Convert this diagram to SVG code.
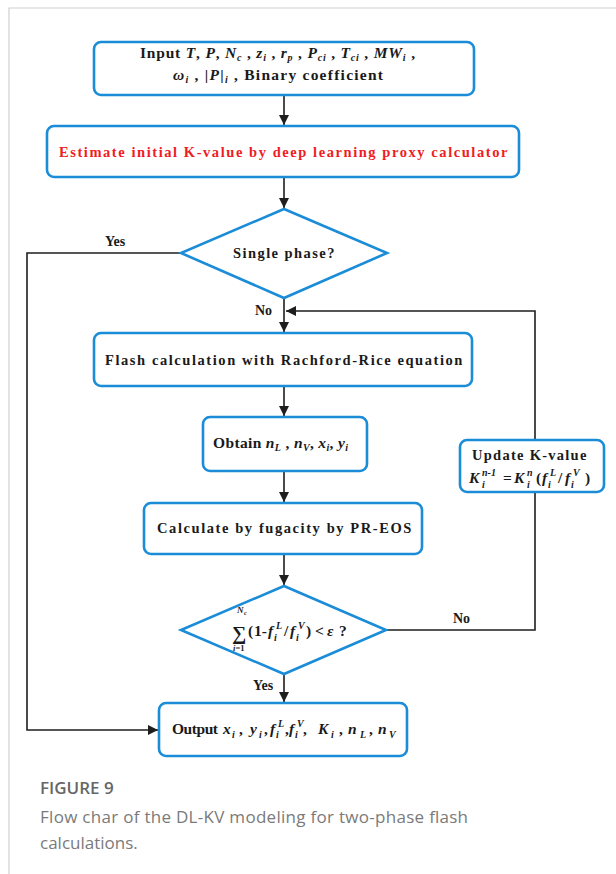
<svg xmlns="http://www.w3.org/2000/svg" width="616" height="874" viewBox="0 0 616 874">
  <style>
    .box { fill: #ffffff; stroke: #1a8cd8; stroke-width: 2.6; }
    .dia { fill: #ffffff; stroke: #1a8cd8; stroke-width: 2.6; stroke-linejoin: miter; }
    .con { fill: none; stroke: #1e1e1e; stroke-width: 1.6; }
    .t { font-family: "Liberation Serif", "Times New Roman", serif; font-weight: bold; font-size: 14.5px; fill: #1a1a1a; letter-spacing: 0.6px; }
    .m { font-family: "Liberation Serif", "Times New Roman", serif; font-weight: bold; font-size: 15.5px; fill: #1a1a1a; }
    .red { fill: #f01c24; }
    .it { font-style: italic; }
    .sb { font-size: 10px; baseline-shift: -3px; font-style: italic; }
    .s { font-size: 10px; font-style: italic; }
    .lbl { font-family: "Liberation Serif", "Times New Roman", serif; font-weight: bold; font-size: 14px; fill: #1a1a1a; }
    .cap { font-family: "Open Sans", "Noto Sans", sans-serif; font-size: 17px; fill: #7a7a7a; }
    .fig { font-family: "Open Sans", "Noto Sans", sans-serif; font-size: 17px; font-weight: 600; fill: #666666; }
  </style>
  <defs>
    <marker id="arrow" viewBox="0 0 10 10" refX="10" refY="5" markerWidth="10" markerHeight="10" markerUnits="userSpaceOnUse" orient="auto">
      <path d="M0,0 L10,5 L0,10 z" fill="#1e1e1e"/>
    </marker>
  </defs>

  <!-- page frame -->
  <rect x="0" y="0" width="616" height="874" fill="#ffffff"/>
  <path d="M9,874 V8 H616" fill="none" stroke="#d0d0d0" stroke-width="1.2"/>

  <!-- connectors -->
  <g id="connectors">
    <line class="con" x1="284" y1="95" x2="284" y2="125" marker-end="url(#arrow)"/>
    <line class="con" x1="284" y1="178" x2="284" y2="208" marker-end="url(#arrow)"/>
    <line class="con" x1="284" y1="298" x2="284" y2="332" marker-end="url(#arrow)"/>
    <line class="con" x1="284" y1="387" x2="284" y2="416" marker-end="url(#arrow)"/>
    <line class="con" x1="284" y1="471" x2="284" y2="502" marker-end="url(#arrow)"/>
    <line class="con" x1="284" y1="555" x2="284" y2="585" marker-end="url(#arrow)"/>
    <line class="con" x1="284" y1="674" x2="284" y2="702" marker-end="url(#arrow)"/>
    <polyline class="con" points="181,253 27,253 27,730 158,730" marker-end="url(#arrow)"/>
    <polyline class="con" points="386,630 535,630 535,492"/>
    <polyline class="con" points="535,440 535,311 286,311" marker-end="url(#arrow)"/>
    <text class="lbl" x="105" y="246">Yes</text>
    <text class="lbl" x="255" y="315">No</text>
    <text class="lbl" x="453" y="623">No</text>
    <text class="lbl" x="253" y="690">Yes</text>
  </g>

  <!-- input -->
  <g id="input">
    <rect class="box" x="94" y="42" width="380" height="53" rx="7"/>
    <text class="m" x="140" y="58" textLength="275" lengthAdjust="spacing">Input <tspan class="it">T</tspan>, <tspan class="it">P</tspan>, <tspan class="it">N</tspan><tspan class="sb">c</tspan> , <tspan class="it">z</tspan><tspan class="sb">i</tspan> , <tspan class="it">r</tspan><tspan class="sb">p</tspan> , <tspan class="it">P</tspan><tspan class="sb">ci</tspan> , <tspan class="it">T</tspan><tspan class="sb">ci</tspan> , <tspan class="it">MW</tspan><tspan class="sb">i</tspan> ,</text>
    <text class="m" x="173" y="80" textLength="210" lengthAdjust="spacing"><tspan class="it">ω</tspan><tspan class="sb">i</tspan> , |<tspan class="it">P</tspan>|<tspan class="sb">i</tspan> , Binary coefficient</text>
  </g>

  <!-- estimate -->
  <g id="estimate">
    <rect class="box" x="47" y="126" width="472" height="51" rx="7"/>
    <text class="t red" x="59" y="157" textLength="449" lengthAdjust="spacing">Estimate initial K-value by deep learning proxy calculator</text>
  </g>

  <!-- single phase -->
  <g id="single-phase">
    <polygon class="dia" points="284,209 387,253 284,298 181,253"/>
    <text class="t" x="233" y="258" textLength="102" lengthAdjust="spacing">Single phase?</text>
  </g>

  <!-- flash -->
  <g id="flash">
    <rect class="box" x="94" y="333" width="378" height="53" rx="7"/>
    <text class="t" x="105" y="365" textLength="358" lengthAdjust="spacing">Flash calculation with Rachford-Rice equation</text>
  </g>

  <!-- obtain -->
  <g id="obtain">
    <rect class="box" x="203" y="417" width="164" height="54" rx="7"/>
    <text class="m" x="213" y="448" textLength="135" lengthAdjust="spacing">Obtain <tspan class="it">n</tspan><tspan class="sb">L</tspan> , <tspan class="it">n</tspan><tspan class="sb">V</tspan>, <tspan class="it">x</tspan><tspan class="sb">i</tspan>, <tspan class="it">y</tspan><tspan class="sb">i</tspan></text>
  </g>

  <!-- update -->
  <g id="update">
    <rect class="box" x="460" y="440" width="144" height="52" rx="7"/>
    <text class="t" x="472" y="460" textLength="115" lengthAdjust="spacing">Update K-value</text>
    <text class="m" y="483"><tspan class="it" x="469">K</tspan><tspan class="s" x="482" y="476">n-1</tspan><tspan class="s" x="482" y="488">i</tspan><tspan x="503" y="483">=</tspan><tspan class="it" x="514">K</tspan><tspan class="s" x="527" y="476">n</tspan><tspan class="s" x="527" y="488">i</tspan><tspan x="536" y="483">(</tspan><tspan class="it" x="542">f</tspan><tspan class="s" x="550" y="476">L</tspan><tspan class="s" x="548" y="488">i</tspan><tspan x="558" y="483">/</tspan><tspan class="it" x="565">f</tspan><tspan class="s" x="573" y="476">V</tspan><tspan class="s" x="571" y="488">i</tspan><tspan x="585" y="483">)</tspan></text>
  </g>

  <!-- fugacity -->
  <g id="fugacity">
    <rect class="box" x="144" y="503" width="278" height="51" rx="7"/>
    <text class="t" x="157" y="533" textLength="255" lengthAdjust="spacing">Calculate by fugacity by PR-EOS</text>
  </g>

  <!-- convergence test -->
  <g id="converged">
    <polygon class="dia" points="284,586 386,630 284,674 181,630"/>
    <text class="m" x="232" y="640" style="font-size:20px">∑</text>
    <text class="m it" x="237" y="613" style="font-size:9px">N</text>
    <text class="m it" x="244" y="615" style="font-size:6px">c</text>
    <text class="m" x="233" y="651" style="font-size:8.5px"><tspan class="it">i</tspan>=1</text>
    <text class="m" y="636"><tspan x="248">(</tspan><tspan x="254">1-</tspan><tspan class="it" x="268">f</tspan><tspan class="s" x="276" y="629">L</tspan><tspan class="s" x="274" y="641">i</tspan><tspan x="284" y="636">/</tspan><tspan class="it" x="290">f</tspan><tspan class="s" x="298" y="629">V</tspan><tspan class="s" x="296" y="641">i</tspan><tspan x="306" y="636">)</tspan><tspan x="315">&lt;</tspan><tspan class="it" x="327">ε</tspan><tspan x="339">?</tspan></text>
  </g>

  <!-- output -->
  <g id="output">
    <rect class="box" x="159" y="703" width="248" height="53" rx="7"/>
    <text class="m" y="734"><tspan x="172" textLength="46" lengthAdjust="spacing">Output</tspan><tspan class="it" x="223">x</tspan><tspan class="s" x="232" y="738">i</tspan><tspan x="239" y="734">,</tspan><tspan class="it" x="250">y</tspan><tspan class="s" x="259" y="738">i</tspan><tspan x="264" y="734">,</tspan><tspan class="it" x="270">f</tspan><tspan class="s" x="278" y="727">L</tspan><tspan class="s" x="276" y="738">i</tspan><tspan x="285" y="734">,</tspan><tspan class="it" x="289">f</tspan><tspan class="s" x="297" y="727">V</tspan><tspan class="s" x="295" y="738">i</tspan><tspan x="303" y="734">,</tspan><tspan class="it" x="318">K</tspan><tspan class="s" x="331" y="738">i</tspan><tspan x="339" y="734">,</tspan><tspan class="it" x="348">n</tspan><tspan class="s" x="360" y="738">L</tspan><tspan x="369" y="734">,</tspan><tspan class="it" x="378">n</tspan><tspan class="s" x="389" y="738">V</tspan></text>
  </g>

  <!-- caption -->
  <g id="caption">
    <text class="fig" x="40" y="794">FIGURE 9</text>
    <text class="cap" x="40" y="823" textLength="428" lengthAdjust="spacing">Flow char of the DL-KV modeling for two-phase flash</text>
    <text class="cap" x="40" y="849">calculations.</text>
  </g>
</svg>
